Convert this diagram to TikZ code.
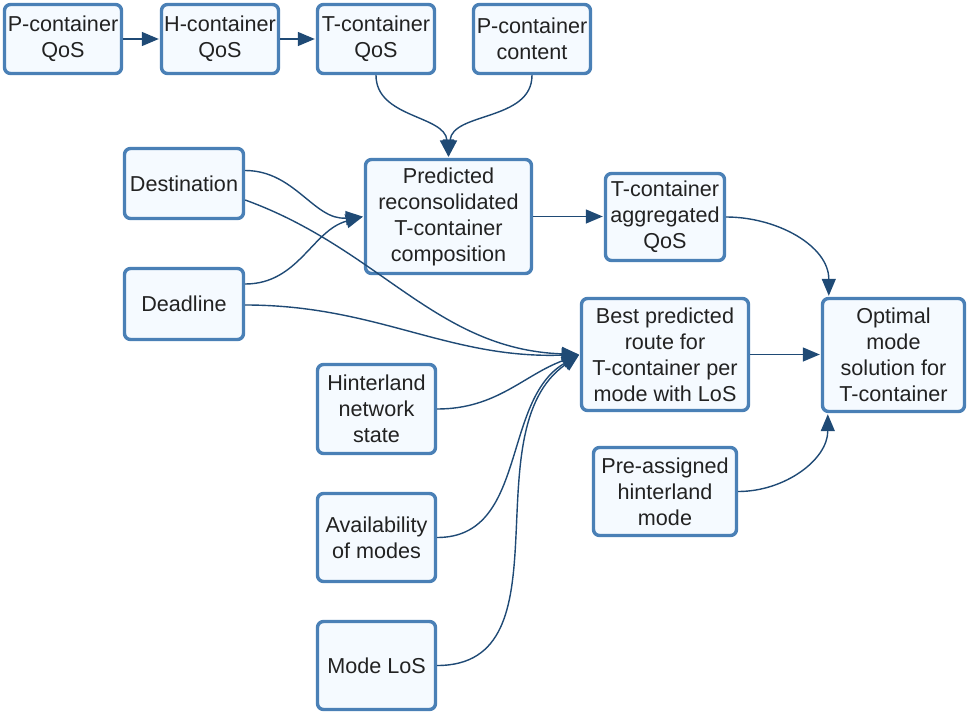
\documentclass[tikz,border=0pt]{standalone}
\usepackage{fontspec}
\setmainfont{Liberation Sans}
\usetikzlibrary{arrows.meta}
\definecolor{boxline}{HTML}{4A80B6}
\definecolor{boxfill}{HTML}{F5FAFF}
\definecolor{linkcol}{HTML}{1F4A75}
\definecolor{txtcol}{HTML}{222222}
\tikzset{
  box/.style={draw=boxline, fill=boxfill, line width=3.4pt, rounded corners=6pt,
    align=center, inner sep=0pt, text=txtcol,
    font=\fontsize{21.6}{26}\selectfont},
  link/.style={draw=linkcol, line width=1.4pt,
    -{Triangle[length=17pt,width=14pt]}, shorten >=1pt},
}
\begin{document}
\begin{tikzpicture}[x=1pt,y=-1pt]
\useasboundingbox (0,0) rectangle (967,715);

% upstream QoS chain
\node[box, minimum width=117pt, minimum height=69pt] (pq) at (63,39) {P-container\\QoS};
\node[box, minimum width=117pt, minimum height=69pt] (hq) at (220,39) {H-container\\QoS};
\node[box, minimum width=117pt, minimum height=69pt] (tq) at (376,39) {T-container\\QoS};
\node[box, minimum width=117pt, minimum height=69pt] (pc) at (532,39) {P-container\\content};

% inputs on the left
\node[box, minimum width=119pt, minimum height=70pt] (dest) at (184,183.5) {Destination};
\node[box, minimum width=119pt, minimum height=71pt] (dead) at (184,304) {Deadline};
\node[box, minimum width=118pt, minimum height=89pt] (hint) at (376.5,409) {Hinterland\\network\\state};
\node[box, minimum width=118pt, minimum height=88pt] (avail) at (376.5,537.5) {Availability\\of modes};
\node[box, minimum width=118pt, minimum height=88pt] (mlos) at (376.5,665.5) {Mode LoS};

% intermediate and result nodes
\node[box, minimum width=166pt, minimum height=114pt] (pred) at (448.5,216.5) {Predicted\\reconsolidated\\T-container\\composition};
\node[box, minimum width=119pt, minimum height=87pt] (agg) at (665,217) {T-container\\aggregated\\QoS};
\node[box, minimum width=167pt, minimum height=112pt] (best) at (665,354.5) {Best predicted\\route for\\T-container per\\mode with LoS};
\node[box, minimum width=142pt, minimum height=113pt] (opt) at (893.5,355) {Optimal\\mode\\solution for\\T-container};
\node[box, minimum width=143pt, minimum height=88pt] (pre) at (665,491.5) {Pre-assigned\\hinterland\\mode};

% chain arrows
\draw[link] (pq) -- (hq);
\draw[link] (hq) -- (tq);

% into the composition prediction
\draw[link] (tq.south) to[out=-90,in=95] (pred.north);
\draw[link] (pc.south) to[out=-90,in=85] (pred.north);
\draw[link] ([yshift=13pt]dest.east) to[out=0,in=185] (pred.west);
\draw[link] ([yshift=20pt]dead.east) to[out=0,in=195] (pred.west);

% into the route prediction
\draw[link] ([yshift=-16.5pt]dest.east) to[out=-20,in=178] (best.west);
\draw[link] ([yshift=-1pt]dead.east) to[out=0,in=182] (best.west);
\draw[link] (hint.east) to[out=0,in=200] (best.west);
\draw[link] (avail.east) to[out=0,in=210] (best.west);
\draw[link] (mlos.east) to[out=0,in=215] (best.west);

% towards the optimal mode
\draw[link] (pred.east) -- (agg.west |- pred.east);
\draw[link] (agg.east) to[out=0,in=90] ([xshift=8pt]opt.north west);
\draw[link] (best.east) -- (opt.west |- best.east);
\draw[link] (pre.east) to[out=0,in=-90] ([xshift=7pt]opt.south west);
\end{tikzpicture}
\end{document}
